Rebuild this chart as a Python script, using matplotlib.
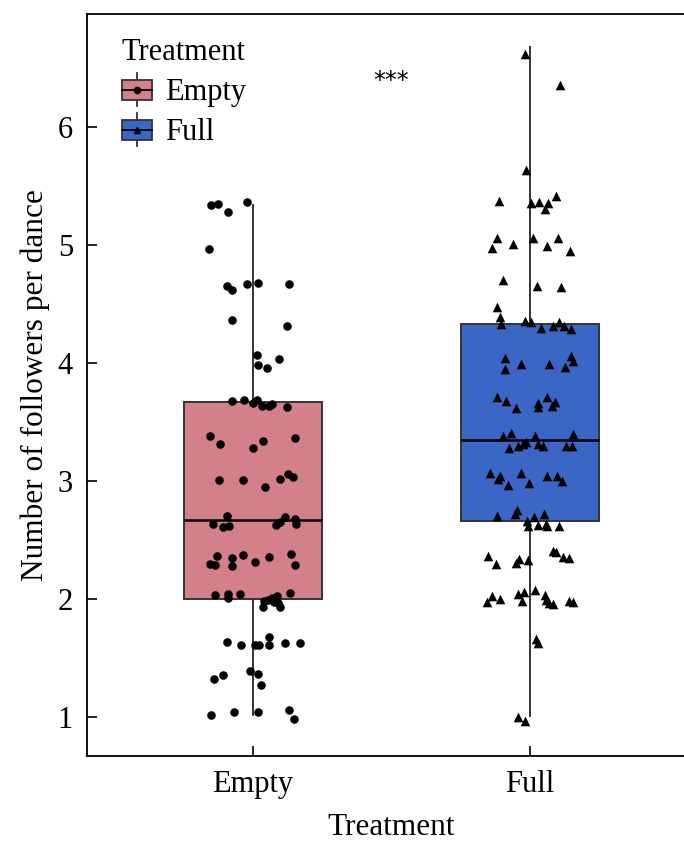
import numpy as np
import matplotlib
matplotlib.use("Agg")
import matplotlib.pyplot as plt
from matplotlib.legend_handler import HandlerBase
from matplotlib.patches import Rectangle
from matplotlib.lines import Line2D

plt.rcParams["font.family"] = ["Liberation Serif", "DejaVu Serif"]

# data
groups = ["Empty", "Full"]
colors = ["#D4808A", "#3A66C6"]
markers = ["o", "^"]

# box statistics: lower whisker, Q1, median, Q3, upper whisker
box_lo = [1.02, 1.01]
box_q1 = [2.00, 2.66]
box_med = [2.67, 3.35]
box_q3 = [3.67, 4.33]
box_hi = [5.34, 6.68]

empty_y = [5.345, 5.353, 5.367, 5.282, 4.969, 4.658, 4.619, 4.667, 4.681, 4.669,
           4.370, 4.316, 4.070, 3.983, 3.960, 4.036, 3.681, 3.692, 3.664, 3.692,
           3.641, 3.641, 3.658, 3.630, 3.384, 3.314, 3.282, 3.339, 3.367, 3.008,
           3.008, 2.952, 3.017, 3.062, 3.036, 2.703, 2.633, 2.610, 2.619, 2.692,
           2.655, 2.630, 2.675, 2.636, 2.367, 2.345, 2.375, 2.356, 2.384, 2.297,
           2.288, 2.280, 2.311, 2.288, 2.031, 2.042, 2.006, 2.042, 2.051, 1.986,
           1.992, 2.006, 2.028, 1.977, 1.935, 1.930, 1.964, 1.633, 1.610, 1.610,
           1.610, 1.675, 1.613, 1.625, 1.625, 1.390, 1.364, 1.269, 1.353, 1.322,
           1.014, 1.042, 1.042, 1.057, 0.986]
empty_jit = [-0.153, -0.125, -0.023, -0.091, -0.159, -0.095, -0.077, -0.023, 0.016, 0.131,
             -0.077, 0.124, 0.013, 0.019, 0.052, 0.095, -0.077, -0.032, 0.001, 0.013,
             0.032, 0.059, 0.068, 0.122, -0.154, -0.119, 0.001, 0.037, 0.151, -0.124,
             -0.036, 0.042, 0.097, 0.127, 0.145, -0.095, -0.145, -0.109, -0.086, 0.114,
             0.097, 0.083, 0.153, 0.155, -0.131, -0.077, -0.037, 0.057, 0.137, -0.155,
             -0.138, -0.077, 0.006, 0.151, -0.137, -0.089, -0.089, -0.049, 0.134, 0.040,
             0.055, 0.068, 0.086, 0.076, 0.037, 0.097, 0.089, -0.093, -0.042, 0.007,
             0.023, 0.059, 0.059, 0.116, 0.171, -0.012, 0.018, 0.028, -0.109, -0.143,
             -0.151, -0.068, 0.016, 0.131, 0.147]

full_y = [6.625, 6.362, 5.636, 5.375, 5.358, 5.367, 5.358, 5.305, 5.415, 5.057,
          4.977, 5.008, 5.057, 4.994, 5.057, 4.952, 4.709, 4.650, 4.647, 4.472,
          4.392, 4.331, 4.358, 4.345, 4.294, 4.314, 4.350, 4.314, 4.286, 4.045,
          3.949, 3.992, 3.992, 4.062, 4.019, 3.964, 3.714, 3.678, 3.619, 3.664,
          3.625, 3.714, 3.672, 3.638, 3.381, 3.404, 3.381, 3.396, 3.282, 3.299,
          3.311, 3.333, 3.311, 3.299, 3.299, 3.299, 3.065, 3.045, 3.014, 3.065,
          2.986, 2.966, 3.045, 3.042, 3.000, 2.754, 2.718, 2.703, 2.720, 2.697,
          2.664, 2.619, 2.627, 2.636, 2.619, 2.619, 2.367, 2.297, 2.303, 2.342,
          2.331, 2.409, 2.396, 2.353, 2.345, 2.028, 1.977, 1.997, 2.042, 2.062,
          1.983, 2.076, 2.034, 1.992, 1.964, 1.955, 1.986, 1.977, 1.664, 1.625,
          1.003, 0.966]
full_jit = [-0.016, 0.108, -0.014, -0.111, 0.004, 0.034, 0.064, 0.055, 0.096, -0.118,
            -0.138, -0.062, 0.012, 0.060, 0.100, 0.144, -0.099, 0.024, 0.114, -0.120,
            -0.107, -0.105, -0.018, 0.004, 0.040, 0.082, 0.106, 0.124, 0.147, -0.090,
            -0.089, -0.032, 0.069, 0.148, 0.154, 0.127, -0.118, -0.088, -0.049, 0.028,
            0.031, 0.060, 0.090, 0.078, -0.099, -0.069, 0.018, 0.154, -0.076, -0.042,
            -0.026, -0.014, 0.028, 0.046, 0.130, 0.151, -0.144, -0.108, -0.117, -0.032,
            -0.004, -0.078, 0.062, 0.099, 0.116, -0.048, -0.054, -0.118, 0.051, 0.014,
            -0.010, -0.006, 0.030, 0.058, 0.062, 0.106, -0.153, -0.123, -0.052, -0.040,
            -0.008, 0.084, 0.096, 0.120, 0.140, -0.138, -0.156, -0.108, -0.042, -0.022,
            -0.030, 0.018, 0.054, 0.058, 0.070, 0.084, 0.141, 0.156, 0.022, 0.029,
            -0.044, -0.018]

points_y = [empty_y, full_y]
points_jit = [empty_jit, full_jit]


class BoxKey(HandlerBase):
    def __init__(self, face, marker):
        super().__init__()
        self.face = face
        self.marker = marker

    def create_artists(self, legend, orig_handle, xdescent, ydescent,
                       width, height, fontsize, trans):
        cx = width / 2 - xdescent
        cy = height / 2 - ydescent
        h = height * 0.95
        rect = Rectangle((-xdescent, cy - h / 2), width, h, facecolor=self.face,
                         edgecolor="#333333", lw=1.3, transform=trans)
        wl = Line2D([cx, cx], [cy - h * 0.8, cy + h * 0.8], color="#333333",
                    lw=1.3, transform=trans)
        med = Line2D([-xdescent, width - xdescent], [cy, cy], color="black",
                     lw=1.3, transform=trans)
        mk = Line2D([cx], [cy], marker=self.marker, color="black", markersize=4.5,
                    lw=0, transform=trans)
        return [wl, rect, med, mk]


fig = plt.figure(figsize=(6.84, 8.42), dpi=100)
ax = fig.add_axes([87 / 684, 86 / 842, 609 / 684, 742 / 842])

pos = [1, 2]
stats = []
for i in range(2):
    stats.append(dict(whislo=box_lo[i], q1=box_q1[i], med=box_med[i],
                      q3=box_q3[i], whishi=box_hi[i], fliers=[]))
bp = ax.bxp(stats, positions=pos, widths=0.5, patch_artist=True, showcaps=False,
            boxprops=dict(lw=1.4, edgecolor="#333333"),
            whiskerprops=dict(lw=1.4, color="#333333"),
            medianprops=dict(lw=1.8, color="black"))
for patch, c in zip(bp["boxes"], colors):
    patch.set_facecolor(c)

for i in range(2):
    xs = pos[i] + np.array(points_jit[i])
    ax.scatter(xs, points_y[i], marker=markers[i], color="black",
               s=38 if markers[i] == "o" else 48, linewidths=0, zorder=5)

ax.text(1.5, 6.39, "***", ha="center", va="center", fontsize=17,
        family="DejaVu Sans")

ax.set_xlim(0.4, 2.6)
ax.set_ylim(0.67, 6.96)
ax.set_xticks(pos)
ax.set_xticklabels(groups)
ax.set_yticks([1, 2, 3, 4, 5, 6])
ax.tick_params(direction="in", length=7, width=1.2, labelsize=22, pad=10)
ax.spines["right"].set_visible(False)
for s in ["left", "bottom", "top"]:
    ax.spines[s].set_linewidth(1.3)
ax.set_xlabel("Treatment", fontsize=22.5, labelpad=10)
ax.set_ylabel("Number of followers per dance", fontsize=22.5, labelpad=6)

h1 = Rectangle((0, 0), 1, 1)
h2 = Rectangle((0, 0), 1, 1)
leg = ax.legend([h1, h2], groups, title="Treatment", loc="upper left",
                bbox_to_anchor=(0.022, 0.996), frameon=False, fontsize=22,
                title_fontsize=22, handlelength=1.0, handleheight=0.7,
                handletextpad=0.4, labelspacing=0.36, borderaxespad=0.3,
                handler_map={h1: BoxKey(colors[0], "o"), h2: BoxKey(colors[1], "^")})
leg._legend_box.align = "left"

fig.savefig("out.png", dpi=100)
